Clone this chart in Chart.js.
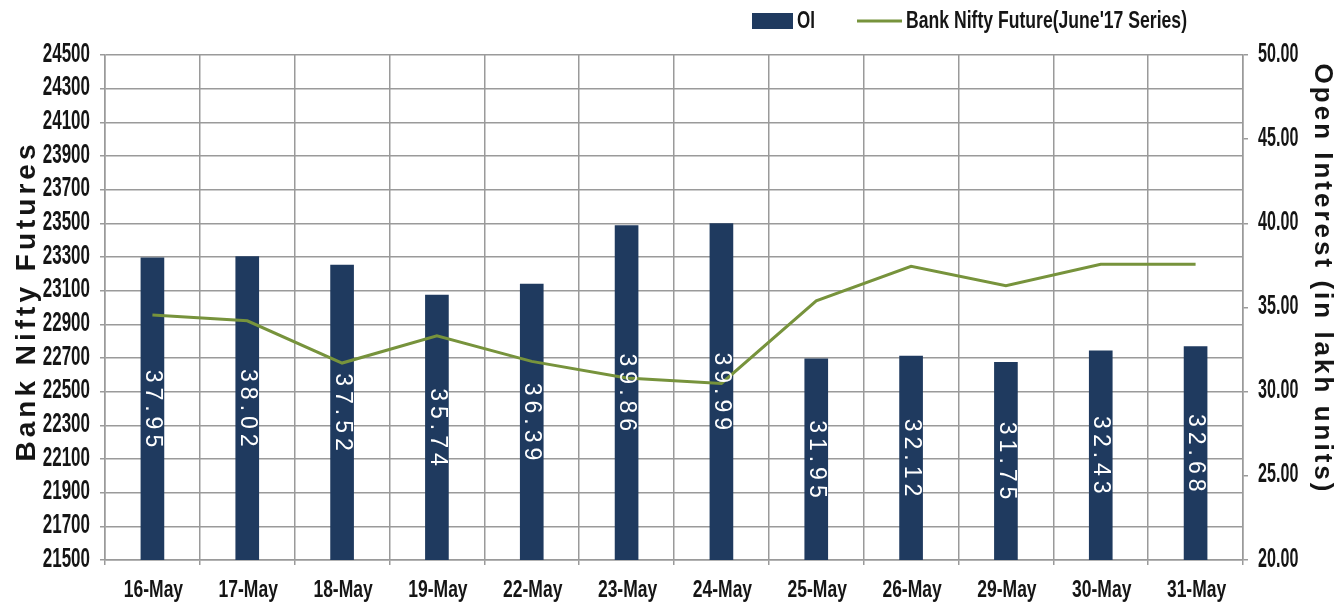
<!DOCTYPE html>
<html>
<head>
<meta charset="utf-8">
<script src="https://cdn.jsdelivr.net/npm/chart.js@4"></script>
<style>
  html, body { margin: 0; padding: 0; background: #fff; }
  #wrap { width: 1343px; height: 609px; position: relative; }
</style>
</head>
<body>
<div id="wrap"><canvas id="oiChart"></canvas></div>
<script>
// Data
const dates = ['16-May', '17-May', '18-May', '19-May', '22-May', '23-May',
               '24-May', '25-May', '26-May', '29-May', '30-May', '31-May'];
const oiValues = [37.95, 38.02, 37.52, 35.74, 36.39, 39.86, 39.99, 31.95, 32.12, 31.75, 32.43, 32.68];
const futurePrices = [22955, 22921, 22670, 22832, 22680, 22581, 22549, 23040, 23245, 23130, 23257, 23257];

const oiLabel = 'OI';
const futureLabel = "Bank Nifty Future(June'17 Series)";
const leftTitle = 'Bank Nifty Futures';
const rightTitle = 'Open Interest (in lakh units)';

const barColor = '#1f3a5f';
const lineColor = '#77933c';
const gridColor = '#9a9a9a';
const textColor = '#151515';
// the reference text looks squeezed (tall and narrow), so labels get drawn stretched
const labelFont = "bold 17px 'Liberation Sans', Arial, sans-serif";
const stretchY = 1.45;
const stretchYAxis = 1.6;

function stretchText(ctx, text, x, y, align, sx, sy) {
    ctx.save();
    ctx.translate(x, y);
    ctx.scale(sx, sy);
    ctx.textAlign = align;
    ctx.textBaseline = 'middle';
    ctx.fillText(text, 0, 0);
    ctx.restore();
}

// White rotated value labels inside each bar
const barLabels = {
    id: 'barLabels',
    afterDatasetsDraw(chart) {
        const ctx = chart.ctx;
        const meta = chart.getDatasetMeta(0);
        const bottom = chart.chartArea.bottom;
        ctx.save();
        ctx.fillStyle = '#ffffff';
        ctx.font = "23px 'Liberation Sans', Arial, sans-serif";
        ctx.letterSpacing = '5px';
        ctx.textAlign = 'center';
        ctx.textBaseline = 'middle';
        meta.data.forEach((bar, i) => {
            const base = Math.min(bar.base, bottom);
            const cy = (bar.y + base) / 2;
            ctx.save();
            ctx.translate(bar.x, cy);
            ctx.rotate(Math.PI / 2);
            ctx.fillText(oiValues[i].toFixed(2), 2, 0);
            ctx.restore();
        });
        ctx.restore();
    }
};

// Tick labels, legend and axis titles drawn by hand
const extras = {
    id: 'extras',
    afterDraw(chart) {
        const ctx = chart.ctx;
        const xs = chart.scales.x;
        const yl = chart.scales.y;
        const yr = chart.scales.yR;
        ctx.save();
        ctx.fillStyle = textColor;
        ctx.font = labelFont;

        yl.ticks.forEach(t => {
            stretchText(ctx, String(t.value), 90, yl.getPixelForValue(t.value) - 1, 'right', 1, stretchYAxis);
        });
        yr.ticks.forEach(t => {
            stretchText(ctx, t.value.toFixed(2), 1258, yr.getPixelForValue(t.value) - 1, 'left', 0.95, stretchYAxis);
        });
        dates.forEach((d, i) => {
            stretchText(ctx, d, xs.getPixelForValue(i) + 1, 590, 'center', 1.03, stretchY);
        });

        // legend
        ctx.fillStyle = barColor;
        ctx.fillRect(752, 13, 41, 16);
        ctx.fillStyle = textColor;
        stretchText(ctx, oiLabel, 797, 21, 'left', 1, stretchY);
        ctx.strokeStyle = lineColor;
        ctx.lineWidth = 3;
        ctx.beginPath();
        ctx.moveTo(857, 21);
        ctx.lineTo(902, 21);
        ctx.stroke();
        const fw = ctx.measureText(futureLabel).width;
        stretchText(ctx, futureLabel, 906, 21, 'left', 281 / fw, stretchY);

        // left title
        ctx.font = "bold 28px 'Liberation Sans', Arial, sans-serif";
        ctx.letterSpacing = '4px';
        ctx.textAlign = 'center';
        ctx.textBaseline = 'middle';
        ctx.save();
        ctx.translate(27, 301);
        ctx.rotate(-Math.PI / 2);
        ctx.fillText(leftTitle, 0, 0);
        ctx.restore();

        // right title
        ctx.font = "bold 26px 'Liberation Sans', Arial, sans-serif";
        ctx.letterSpacing = '3px';
        ctx.save();
        ctx.translate(1322, 279);
        ctx.rotate(Math.PI / 2);
        ctx.fillText(rightTitle, 0, 0);
        ctx.restore();

        ctx.restore();
    }
};

const ctx = document.getElementById('oiChart').getContext('2d');
const oiChart = new Chart(ctx, {
    type: 'bar',
    data: {
        labels: dates,
        datasets: [
            {
                label: oiLabel,
                data: oiValues,
                yAxisID: 'yR',
                backgroundColor: barColor,
                barThickness: 23,
                order: 2
            },
            {
                type: 'line',
                label: futureLabel,
                data: futurePrices,
                yAxisID: 'y',
                borderColor: lineColor,
                borderWidth: 3,
                pointRadius: 0,
                tension: 0,
                order: 1
            }
        ]
    },
    options: {
        responsive: true,
        maintainAspectRatio: false,
        animation: false,
        layout: { padding: { top: 55, left: 0, right: 0, bottom: 0 } },
        plugins: {
            legend: { display: false },
            tooltip: { enabled: false }
        },
        scales: {
            x: {
                grid: {
                    color: gridColor,
                    lineWidth: 1.5,
                    offset: true,
                    tickLength: 5
                },
                border: { color: gridColor, width: 1.5 },
                ticks: { display: false },
                afterFit(scale) { scale.height = 49; }
            },
            y: {
                position: 'left',
                min: 21500,
                max: 24500,
                grid: { color: gridColor, lineWidth: 1.5, tickLength: 5 },
                border: { color: gridColor, width: 1.5 },
                ticks: { display: false, stepSize: 200 },
                afterFit(scale) { scale.width = 105; }
            },
            yR: {
                position: 'right',
                min: 20,
                max: 50,
                grid: { drawOnChartArea: false, color: gridColor, lineWidth: 1.5, tickLength: 5 },
                border: { color: gridColor, width: 1.5 },
                ticks: { display: false, stepSize: 5 },
                afterFit(scale) { scale.width = 100; }
            }
        }
    },
    plugins: [barLabels, extras]
});
</script>
</body>
</html>
